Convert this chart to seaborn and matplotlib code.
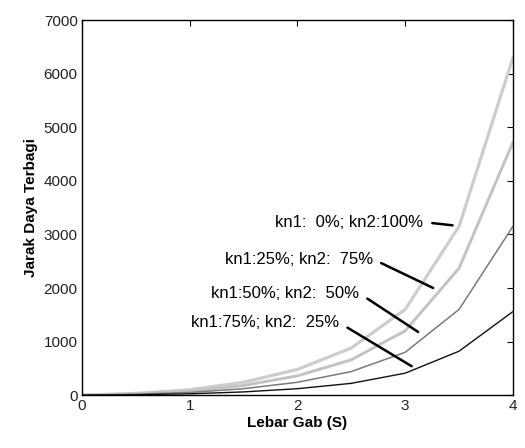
import matplotlib
matplotlib.use("Agg")
import matplotlib.pyplot as plt
import seaborn as sns
import pandas as pd

# Gap width (S)
lebar_gab = [0, 0.5, 1, 1.5, 2, 2.5, 3, 3.5, 4]

# Shared distance for each kn1/kn2 split
jarak_kn1_0 = [0, 32, 100, 240, 480, 880, 1600, 3150, 6300]
jarak_kn1_25 = [0, 24, 75, 180, 360, 660, 1200, 2370, 4720]
jarak_kn1_50 = [0, 16, 50, 120, 240, 440, 800, 1600, 3150]
jarak_kn1_75 = [0, 8, 25, 60, 120, 220, 410, 820, 1560]

series_names = ["kn1:  0%; kn2:100%", "kn1:25%; kn2:  75%",
                "kn1:50%; kn2:  50%", "kn1:75%; kn2:  25%"]
series_values = [jarak_kn1_0, jarak_kn1_25, jarak_kn1_50, jarak_kn1_75]

rows = []
for name, vals in zip(series_names, series_values):
    for s, v in zip(lebar_gab, vals):
        rows.append({"S": s, "Jarak": v, "Seri": name})
df = pd.DataFrame(rows)

sns.set_theme(style="white")
plt.rcParams["font.family"] = ["Liberation Sans", "DejaVu Sans"]

fig = plt.figure(figsize=(5.25, 4.48), dpi=100, facecolor="white")
ax = fig.add_axes([0.156, 0.118, 0.821, 0.837])

palette = {series_names[0]: "#cdcdcd", series_names[1]: "#c2c2c2",
           series_names[2]: "#7a7a7a", series_names[3]: "#111111"}
widths = {series_names[0]: 2.3, series_names[1]: 2.1,
          series_names[2]: 1.1, series_names[3]: 1.0}

for name in series_names:
    sub = df[df["Seri"] == name]
    sns.lineplot(data=sub, x="S", y="Jarak", color=palette[name],
                 linewidth=widths[name], ax=ax, legend=False)

ax.set_xlim(0, 4)
ax.set_ylim(0, 7000)
ax.set_xticks([0, 1, 2, 3, 4])
ax.set_yticks(range(0, 7001, 1000))
ax.tick_params(direction="in", length=4, width=0.8, top=True, right=True,
               labelsize=11, colors="black", labelcolor="#222222", pad=3)
for sp in ax.spines.values():
    sp.set_color("black")
    sp.set_linewidth(1.0)

ax.set_xlabel("Lebar Gab (S)", fontsize=11, fontweight="bold", labelpad=2,
              color="black")
ax.set_ylabel("Jarak Daya Terbagi", fontsize=11, fontweight="bold", labelpad=4,
              color="black")

# Leader-line labels for each curve: (text anchor, point on curve)
label_text_pos = [(3.17, 3230), (2.70, 2540), (2.575, 1900), (2.39, 1350)]
label_tip_pos = [(3.44, 3170), (3.26, 2000), (3.12, 1180), (3.06, 540)]
for name, (tx, ty), (px, py) in zip(series_names, label_text_pos, label_tip_pos):
    ax.annotate(name, xy=(px, py), xytext=(tx, ty), fontsize=12,
                ha="right", va="center", color="black",
                arrowprops=dict(arrowstyle="-", color="black", lw=1.8,
                                shrinkA=4, shrinkB=0, relpos=(1, 0.5)))

fig.savefig("out.png", dpi=100, facecolor="white")
